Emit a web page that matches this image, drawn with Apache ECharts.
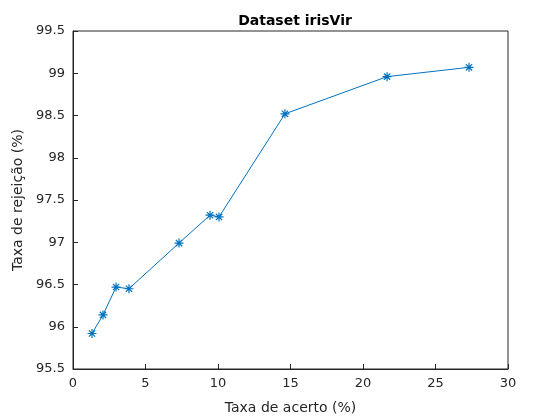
<!DOCTYPE html>
<html>
<head>
<meta charset="utf-8">
<script src="https://cdn.jsdelivr.net/npm/echarts@6/dist/echarts.min.js"></script>
<style>html,body{margin:0;padding:0;background:#fff}#chart{width:560px;height:420px}</style>
</head>
<body>
<div id="chart"></div>
<script>
const taxaAcerto = [1.31, 2.07, 2.97, 3.86, 7.31, 9.45, 10.07, 14.62, 21.66, 27.31];
const taxaRejeicao = [95.92, 96.14, 96.47, 96.45, 96.99, 97.32, 97.30, 98.52, 98.96, 99.07];

const chart = echarts.init(document.getElementById('chart'));
const axisCommon = {
    axisLine: { onZero: false, lineStyle: { color: '#262626', width: 1 } },
    axisTick: { inside: true, length: 5, lineStyle: { color: '#262626' } },
    axisLabel: { color: '#262626', fontSize: 13, fontFamily: 'DejaVu Sans' },
    splitLine: { show: false },
    nameLocation: 'middle',
    nameTextStyle: { color: '#262626', fontSize: 14, fontFamily: 'DejaVu Sans' }
};
chart.setOption({
    animation: false,
    title: {
        text: 'Dataset irisVir', left: 290, top: 9, textAlign: 'center',
        textStyle: { fontSize: 14, fontWeight: 'bold', color: '#000', fontFamily: 'DejaVu Sans' }
    },
    grid: { left: 73, right: 52, top: 31, bottom: 45, show: true, borderColor: '#262626', borderWidth: 1 },
    xAxis: Object.assign({}, axisCommon, {
        type: 'value', min: 0, max: 30, interval: 5,
        name: 'Taxa de acerto (%)', nameGap: 32
    }),
    yAxis: Object.assign({}, axisCommon, {
        type: 'value', min: 95.5, max: 99.5, interval: 0.5,
        name: 'Taxa de rejeição (%)', nameGap: 38,
        axisLabel: Object.assign({}, axisCommon.axisLabel, { formatter: v => String(Math.round(v * 10) / 10) })
    }),
    series: [{
        type: 'line',
        data: taxaAcerto.map((x, i) => [x, taxaRejeicao[i]]),
        lineStyle: { color: '#0072BD', width: 1 },
        itemStyle: { color: '#0072BD', borderColor: '#0072BD', borderWidth: 1.2 },
        symbol: 'path://M0,-5L0,5M-5,0L5,0M-3.5,-3.5L3.5,3.5M-3.5,3.5L3.5,-3.5',
        symbolSize: 9,
        showAllSymbol: true
    }]
});
</script>
</body>
</html>
